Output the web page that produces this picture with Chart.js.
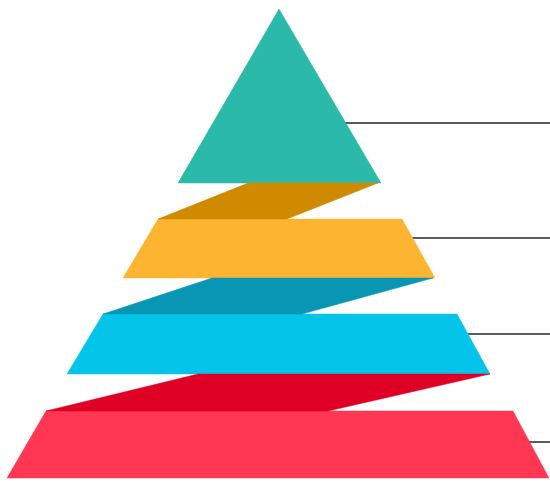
<!DOCTYPE html>
<html>
<head>
<meta charset="utf-8">
<script src="https://cdn.jsdelivr.net/npm/chart.js@4"></script>
<style>
  html, body { margin: 0; padding: 0; background: #fff; }
  #wrap { width: 550px; height: 483px; position: relative; }
</style>
</head>
<body>
<div id="wrap"><canvas id="chart"></canvas></div>
<script>
// pyramid levels, top to bottom (plot units = pixels of the 550x483 frame)
var levelColors = ['#2bb9a9', '#fdb431', '#04c4ea', '#ff3753'];
var levelTopY = [9, 219, 314, 411];
var levelBottomY = [183, 278, 374, 478];
var levelTopLeft = [279, 158, 103, 46];
var levelTopRight = [279, 402, 457, 513];
var levelBottomLeft = [178, 123, 67, 7];
var levelBottomRight = [381, 435, 490, 549];

// folded ribbons that join one level to the next
var foldColors = ['#d08a00', '#0896b4', '#df0025'];
var foldTopLeft = [248, 212, 198];
var foldTopRight = [378, 433, 490];
var foldBottomLeft = [158, 103, 46];
var foldBottomRight = [287, 302, 328];

// leader lines on the right
var leaderY = [123, 238, 334, 442];
var leaderStartX = [345, 412, 468, 528];
var leaderEndX = 550;

var datasets = [];

function shape(points, color) {
  return {
    data: points,
    showLine: true,
    fill: 'shape',
    backgroundColor: color,
    borderColor: color,
    borderWidth: 0.5,
    pointRadius: 0,
    tension: 0
  };
}

for (var i = 0; i < foldColors.length; i++) {
  datasets.push(shape([
    {x: foldTopLeft[i], y: levelBottomY[i]},
    {x: foldTopRight[i], y: levelBottomY[i]},
    {x: foldBottomRight[i], y: levelTopY[i + 1]},
    {x: foldBottomLeft[i], y: levelTopY[i + 1]},
    {x: foldTopLeft[i], y: levelBottomY[i]}
  ], foldColors[i]));
}

for (var j = 0; j < levelColors.length; j++) {
  datasets.push(shape([
    {x: levelTopLeft[j], y: levelTopY[j]},
    {x: levelTopRight[j], y: levelTopY[j]},
    {x: levelBottomRight[j], y: levelBottomY[j]},
    {x: levelBottomLeft[j], y: levelBottomY[j]},
    {x: levelTopLeft[j], y: levelTopY[j]}
  ], levelColors[j]));
}

for (var k = 0; k < leaderY.length; k++) {
  datasets.push({
    data: [{x: leaderStartX[k], y: leaderY[k]}, {x: leaderEndX, y: leaderY[k]}],
    showLine: true,
    fill: false,
    borderColor: '#5b5b5b',
    borderWidth: 2,
    pointRadius: 0
  });
}

var chart = new Chart(document.getElementById('chart'), {
  type: 'scatter',
  data: { datasets: datasets },
  options: {
    responsive: true,
    maintainAspectRatio: false,
    animation: false,
    layout: { padding: 0 },
    plugins: {
      legend: { display: false },
      tooltip: { enabled: false }
    },
    scales: {
      x: { type: 'linear', min: 0, max: 550, display: false },
      y: { type: 'linear', min: 0, max: 483, reverse: true, display: false }
    }
  }
});
</script>
</body>
</html>
